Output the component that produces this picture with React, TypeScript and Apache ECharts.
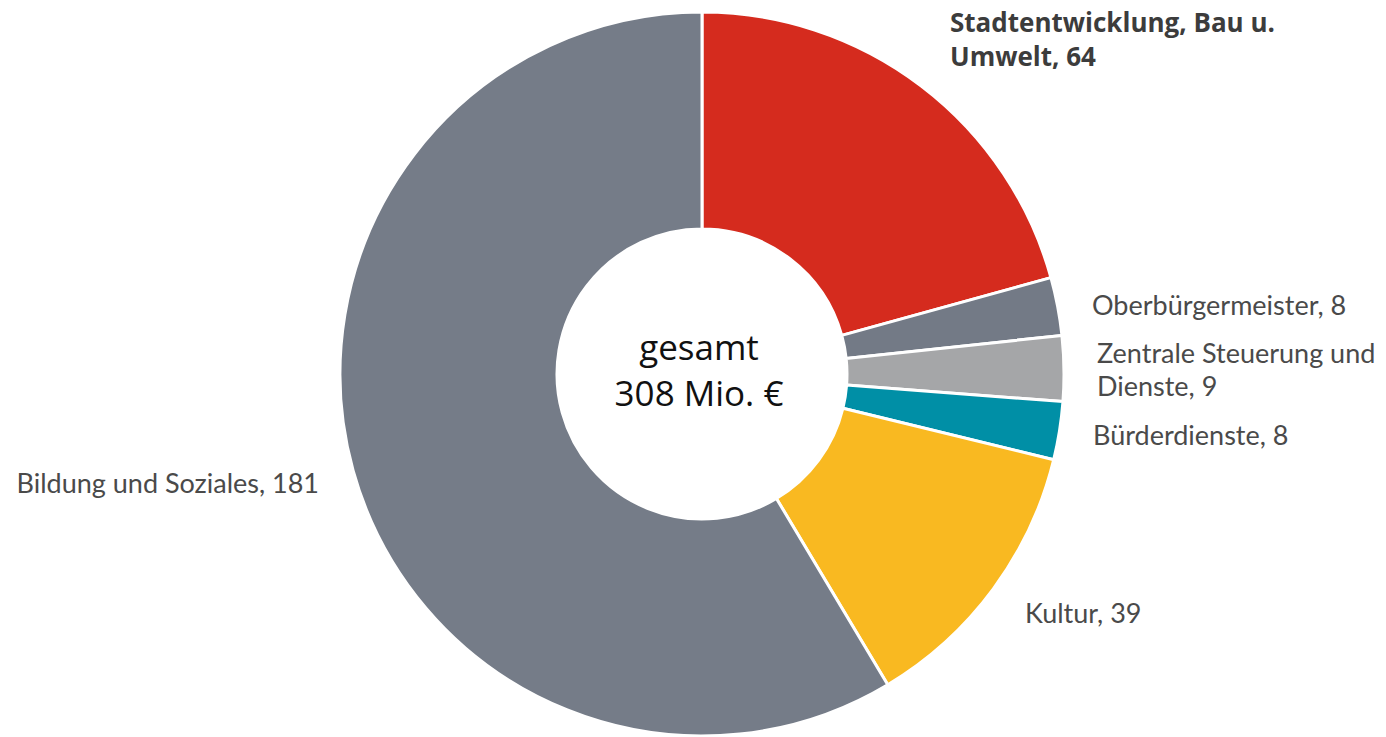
import React, { useEffect, useRef } from "react";
import * as echarts from "echarts";

const categories = [
  "Stadtentwicklung, Bau u.\nUmwelt",
  "Oberbürgermeister",
  "Zentrale Steuerung und\nDienste",
  "Bürderdienste",
  "Kultur",
  "Bildung und Soziales",
];
const values = [64, 8, 9, 8, 39, 181];
const colors = ["#D52B1E", "#737A86", "#A5A6A8", "#008FA6", "#F9B921", "#757C88"];
const boldFlags = [true, false, false, false, false, false];
const centerLines = ["gesamt", "308 Mio. €"];

// label anchor positions (layout only)
const labelPos: { x: number; y: number; align: string }[] = [
  { x: 950, y: 39, align: "left" },
  { x: 1092, y: 304, align: "left" },
  { x: 1097, y: 369, align: "left" },
  { x: 1093, y: 434, align: "left" },
  { x: 1025, y: 612, align: "left" },
  { x: 319, y: 482, align: "right" },
];
const centerLineY = [346, 392];

const FONT = "Lato, 'Open Sans', sans-serif";
const BOLD_FONT = "'Open Sans', Lato, sans-serif";

export default function App() {
  const ref = useRef<HTMLDivElement>(null);
  useEffect(() => {
    if (!ref.current) return;
    const chart = echarts.init(ref.current, undefined, { renderer: "svg" });
    chart.setOption({
      animation: false,
      backgroundColor: "#ffffff",
      graphic: centerLines.map((t, i) => ({
        type: "text",
        x: 699,
        y: centerLineY[i],
        style: {
          text: t,
          fontFamily: "'Open Sans', sans-serif",
          fontWeight: 400,
          fontSize: 35,
          fill: "#111111",
          align: "center",
          verticalAlign: "middle",
        },
        z: 100,
      })),
      series: [
        {
          type: "pie",
          center: [702, 374],
          radius: [145, 362],
          startAngle: 90,
          clockwise: true,
          avoidLabelOverlap: false,
          itemStyle: { borderColor: "#ffffff", borderWidth: 3 },
          labelLine: { show: false },
          label: {
            show: true,
            position: "outside",
            fontFamily: FONT,
            fontSize: 27,
            lineHeight: 33,
            color: "#4a4a4a",
            formatter: (p: any) => `${p.name}, ${p.value}`,
          },
          labelLayout: (params: any) => {
            const pos = labelPos[params.dataIndex];
            return {
              x: pos.x,
              y: pos.y,
              align: pos.align,
              verticalAlign: "middle",
            };
          },
          data: categories.map((name, i) => ({
            name,
            value: values[i],
            itemStyle: { color: colors[i] },
            label: boldFlags[i]
              ? { fontWeight: "bold", color: "#3c3c3c", fontFamily: BOLD_FONT, fontSize: 26, lineHeight: 34 }
              : undefined,
          })),
        },
      ],
    });
    return () => chart.dispose();
  }, []);
  return (
    <div
      ref={ref}
      style={{ position: "absolute", left: 0, top: 0, width: 1386, height: 737 }}
    />
  );
}
